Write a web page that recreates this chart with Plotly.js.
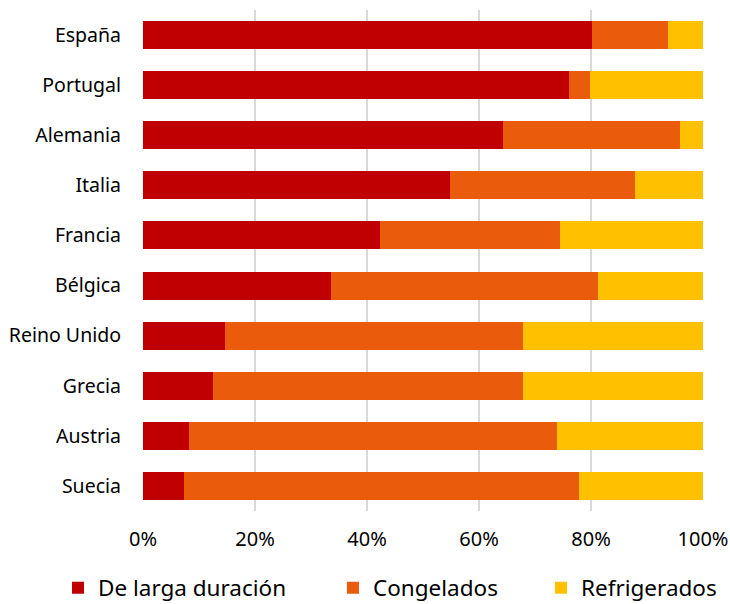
<!DOCTYPE html>
<html>
<head>
<meta charset="utf-8">
<script src="https://cdn.plot.ly/plotly-3.0.1.min.js"></script>
<style>html,body{margin:0;padding:0;background:#fff;}#chart{width:730px;height:604px;}</style>
</head>
<body>
<div id="chart"></div>
<script>
const countries = ["España","Portugal","Alemania","Italia","Francia","Bélgica","Reino Unido","Grecia","Austria","Suecia"];
const largaDuracion = [80.2, 76.1, 64.3, 54.9, 42.4, 33.6, 14.6, 12.5, 8.2, 7.3];
const congelados    = [13.6, 3.7, 31.6, 32.9, 32.1, 47.7, 53.3, 55.4, 65.8, 70.6];
const refrigerados  = [6.2, 20.2, 4.1, 12.2, 25.5, 18.7, 32.1, 32.1, 26.0, 22.1];
const seriesNames = ["De larga duración","Congelados","Refrigerados"];
const seriesColors = ["#C00000","#EA5B0C","#FFC000"];
const tickVals = [0, 20, 40, 60, 80, 100];
const tickText = ["0%","20%","40%","60%","80%","100%"];

const FONT = "Noto Sans, sans-serif";
const values = [largaDuracion, congelados, refrigerados];
const legendIds = ["legend","legend2","legend3"];
const traces = values.map((v, i) => ({
  type: "bar",
  orientation: "h",
  name: seriesNames[i],
  y: countries,
  x: v,
  legend: legendIds[i],
  marker: {color: seriesColors[i], line: {width: 0}},
  hoverinfo: "x+y+name"
}));

function legendAt(leftPx) {
  return {
    orientation: "h",
    xref: "container", yref: "container",
    x: leftPx / 730, xanchor: "left",
    y: (604 - 588) / 604, yanchor: "middle",
    font: {size: 22.5, family: FONT, color: "#000"},
    bgcolor: "rgba(0,0,0,0)",
    borderwidth: 0
  };
}

const layout = {
  width: 730, height: 604,
  margin: {l: 143, r: 27, t: 10, b: 93},
  barmode: "stack",
  bargap: 0.44,
  paper_bgcolor: "#fff",
  plot_bgcolor: "#fff",
  font: {family: FONT, color: "#000", size: 19},
  xaxis: {
    range: [0, 100],
    tickvals: tickVals,
    ticktext: tickText,
    showgrid: true, gridcolor: "#D9D9D9", gridwidth: 1.3,
    zeroline: false, showline: false, ticks: "",
    ticklabelstandoff: 14,
    tickfont: {size: 20, family: FONT, color: "#000"},
    fixedrange: true
  },
  yaxis: {
    autorange: "reversed",
    showgrid: false, zeroline: false, showline: false, ticks: "",
    ticklabelstandoff: 21,
    tickfont: {size: 19.5, family: FONT, color: "#000"},
    fixedrange: true
  },
  legend: legendAt(58),
  legend2: legendAt(333),
  legend3: legendAt(541),
  showlegend: true
};

Plotly.newPlot("chart", traces, layout, {displayModeBar: false, staticPlot: true});
</script>
</body>
</html>
